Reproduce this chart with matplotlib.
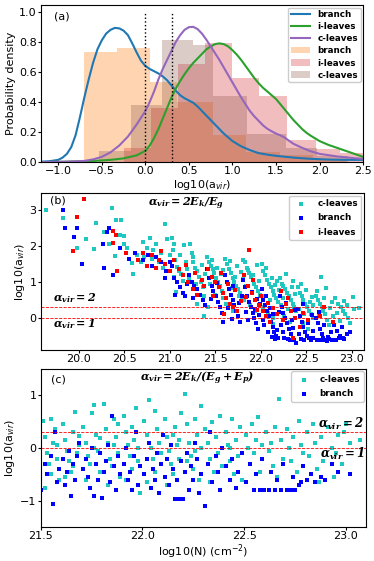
import matplotlib
matplotlib.use('Agg')
from matplotlib import pyplot as plt
import numpy as np

plt.rcParams['mathtext.fontset'] = 'custom'
plt.rcParams['mathtext.bf'] = 'DejaVu Serif:italic:bold'

# ---- panel (a): histograms (bin edges / densities) ----
br_edges = [-0.70, -0.32, 0.05, 0.36, 0.78, 1.15, 1.55, 1.93, 2.30]
br_hist = [0.735, 0.76, 0.53, 0.40, 0.178, 0.07, 0.045, 0.02]
il_edges = [-0.25, 0.064, 0.38, 0.69, 1.00, 1.31, 1.63, 1.96, 2.24, 2.55]
il_hist = [0.095, 0.36, 0.656, 0.79, 0.56, 0.44, 0.15, 0.09, 0.06]
cl_edges = [-0.53, -0.165, 0.19, 0.55, 0.78, 1.17, 1.62, 1.97, 2.33]
cl_hist = [0.075, 0.378, 0.81, 0.78, 0.44, 0.185, 0.096, 0.04]

# kde curves
br_kx = [-1.2, -1.1, -1.0, -0.95, -0.9, -0.85, -0.8, -0.75, -0.7, -0.65, -0.6, -0.55, -0.5, -0.45,
         -0.4, -0.35, -0.3, -0.25, -0.2, -0.15, -0.1, -0.05, 0.0, 0.05, 0.1, 0.15, 0.2, 0.25, 0.3,
         0.35, 0.4, 0.45, 0.5, 0.55, 0.6, 0.65, 0.7, 0.75, 0.8, 0.85, 0.9, 0.95, 1.0, 1.1, 1.2,
         1.3, 1.4, 1.5, 1.7, 1.9, 2.1, 2.3, 2.5]
br_ky = [0.003, 0.006, 0.015, 0.03, 0.055, 0.10, 0.18, 0.30, 0.43, 0.55, 0.66, 0.75, 0.81, 0.855,
         0.88, 0.893, 0.89, 0.875, 0.845, 0.79, 0.73, 0.675, 0.64, 0.62, 0.605, 0.59, 0.57, 0.545,
         0.51, 0.475, 0.445, 0.425, 0.41, 0.395, 0.37, 0.34, 0.31, 0.28, 0.25, 0.22, 0.19, 0.165,
         0.14, 0.105, 0.08, 0.06, 0.05, 0.042, 0.03, 0.022, 0.017, 0.015, 0.015]
il_kx = [-1.2, -0.9, -0.6, -0.4, -0.25, -0.1, 0.0, 0.05, 0.1, 0.15, 0.2, 0.25, 0.3, 0.35, 0.4,
         0.45, 0.5, 0.55, 0.6, 0.65, 0.7, 0.75, 0.8, 0.85, 0.9, 0.95, 1.0, 1.05, 1.1, 1.15, 1.2,
         1.25, 1.3, 1.35, 1.4, 1.45, 1.5, 1.55, 1.6, 1.65, 1.7, 1.75, 1.8, 1.85, 1.9, 2.0, 2.1,
         2.2, 2.3, 2.4, 2.5]
il_ky = [0.0, 0.003, 0.008, 0.015, 0.025, 0.045, 0.075, 0.11, 0.16, 0.22, 0.29, 0.36, 0.43, 0.49,
         0.54, 0.585, 0.625, 0.66, 0.69, 0.72, 0.75, 0.77, 0.785, 0.79, 0.785, 0.77, 0.745, 0.715,
         0.68, 0.64, 0.60, 0.56, 0.525, 0.495, 0.47, 0.445, 0.42, 0.385, 0.35, 0.315, 0.28, 0.25,
         0.22, 0.195, 0.175, 0.14, 0.115, 0.095, 0.075, 0.055, 0.035]
cl_kx = [-1.2, -0.9, -0.7, -0.6, -0.5, -0.4, -0.3, -0.2, -0.1, 0.0, 0.05, 0.1, 0.15, 0.2, 0.25,
         0.3, 0.35, 0.4, 0.45, 0.5, 0.55, 0.6, 0.65, 0.7, 0.75, 0.8, 0.85, 0.9, 0.95, 1.0, 1.05,
         1.1, 1.15, 1.2, 1.25, 1.3, 1.35, 1.4, 1.45, 1.5, 1.55, 1.6, 1.65, 1.7, 1.8, 1.9, 2.0,
         2.2, 2.4, 2.5]
cl_ky = [0.0, 0.003, 0.008, 0.018, 0.035, 0.065, 0.11, 0.17, 0.25, 0.34, 0.40, 0.47, 0.55, 0.62,
         0.68, 0.74, 0.80, 0.845, 0.88, 0.898, 0.90, 0.885, 0.855, 0.815, 0.77, 0.725, 0.68, 0.63,
         0.58, 0.53, 0.48, 0.43, 0.385, 0.34, 0.305, 0.275, 0.245, 0.222, 0.205, 0.19, 0.178,
         0.163, 0.142, 0.122, 0.095, 0.072, 0.055, 0.038, 0.026, 0.022]

# ---- panel (b): log10(N) vs log10(a_vir) ----
cl_b = np.array([
    (19.64, 3.00), (19.82, 2.78), (19.98, 1.95), (20.08, 2.20), (20.19, 2.65), (20.17, 1.92),
    (20.36, 3.06), (20.28, 2.40), (20.33, 2.05), (20.41, 2.73), (20.46, 2.72), (20.45, 2.30),
    (20.50, 2.28), (20.50, 2.05), (20.40, 1.72), (20.53, 1.95), (20.60, 1.22), (20.64, 1.75),
    (20.70, 2.12), (20.78, 2.22), (20.80, 1.65), (20.85, 2.05), (20.90, 1.80), (20.95, 2.62),
    (20.97, 2.18), (21.02, 2.22), (21.05, 2.05), (20.75, 1.95), (20.88, 1.55), (20.68, 1.55),
    (20.92, 1.40), (21.00, 1.75), (20.82, 1.88), (20.58, 1.52), (20.72, 1.70),
    (21.03, 1.90), (21.06, 1.60), (21.08, 1.42), (21.10, 1.30), (21.12, 1.22), (21.14, 1.02),
    (21.07, 0.72), (21.16, 2.02), (21.18, 1.55), (21.11, 1.75), (21.19, 1.35), (21.05, 1.15),
    (21.22, 2.05), (21.24, 1.80), (21.26, 1.55), (21.28, 1.40), (21.30, 1.30), (21.32, 1.15),
    (21.34, 1.00), (21.36, 0.85), (21.38, 0.60), (21.30, 0.40), (21.25, 1.68), (21.35, 1.48),
    (21.39, 1.22), (21.21, 1.12), (21.29, 0.95),
    (21.41, 1.70), (21.43, 1.55), (21.45, 1.45), (21.47, 1.35), (21.49, 1.25), (21.51, 1.10),
    (21.53, 1.00), (21.55, 0.90), (21.57, 0.75), (21.59, 0.55), (21.42, 0.30), (21.38, 0.05),
    (21.46, 1.62), (21.52, 1.40), (21.56, 1.22), (21.44, 0.95), (21.58, 1.32), (21.50, 0.65),
    (21.61, 1.65), (21.63, 1.50), (21.65, 1.35), (21.67, 1.25), (21.69, 1.10), (21.71, 1.00),
    (21.73, 0.90), (21.75, 0.80), (21.77, 0.70), (21.79, 0.55), (21.62, 0.40), (21.70, 0.20),
    (21.66, 1.58), (21.74, 1.45), (21.78, 1.28), (21.64, 0.95), (21.72, 1.15), (21.76, 0.62),
    (21.68, 0.82),
    (21.81, 1.60), (21.83, 1.55), (21.85, 1.40), (21.87, 1.25), (21.89, 1.15), (21.91, 1.05),
    (21.93, 0.95), (21.95, 0.85), (21.97, 0.75), (21.99, 0.65), (21.82, 0.50), (21.88, 0.35),
    (21.94, 0.20), (21.86, 1.32), (21.92, 1.20), (21.96, 1.48), (21.84, 0.88), (21.98, 1.02),
    (21.90, 0.72), (21.80, 1.08),
    (22.01, 1.50), (22.03, 1.30), (22.05, 1.20), (22.07, 1.05), (22.09, 0.95), (22.11, 0.85),
    (22.13, 0.75), (22.15, 0.65), (22.17, 0.55), (22.19, 0.45), (22.02, 0.30), (22.08, 0.15),
    (22.14, 0.00), (22.06, 1.38), (22.12, 1.12), (22.16, 0.92), (22.18, 1.02), (22.04, 0.62),
    (22.10, 0.50), (22.20, 0.78), (22.13, -0.18),
    (22.21, 1.10), (22.23, 0.95), (22.25, 0.90), (22.27, 0.80), (22.29, 0.70), (22.31, 0.60),
    (22.33, 0.50), (22.35, 0.40), (22.37, 0.30), (22.39, 0.20), (22.26, 0.05), (22.32, -0.10),
    (22.28, 1.22), (22.34, 0.85), (22.38, 0.68), (22.24, 0.55), (22.36, 1.02), (22.22, 0.35),
    (22.30, 0.25),
    (22.41, 0.85), (22.43, 0.70), (22.45, 0.60), (22.47, 0.50), (22.49, 0.40), (22.51, 0.30),
    (22.53, 0.20), (22.55, 0.10), (22.57, 0.00), (22.46, -0.15), (22.52, -0.30), (22.44, 0.95),
    (22.50, 0.78), (22.56, 0.58), (22.58, 0.35), (22.42, 0.25), (22.54, 0.45), (22.48, 0.12),
    (22.66, 1.15), (22.61, 0.60), (22.63, 0.50), (22.65, 0.40), (22.67, 0.30), (22.69, 0.20),
    (22.71, 0.10), (22.73, -0.05), (22.75, -0.20), (22.62, 0.75), (22.70, 0.55), (22.78, 0.45),
    (22.76, 0.28), (22.64, 0.12), (22.79, 0.05), (22.72, 0.82),
    (22.82, 0.55), (22.85, 0.40), (22.88, 0.30), (22.90, 0.20), (22.93, 0.10), (22.96, 0.00),
    (22.98, -0.15), (23.03, 0.25), (23.01, 0.58), (23.08, 0.28), (22.84, 0.15), (22.92, 0.48),
    (22.87, -0.08), (22.95, 0.35),
])
br_b = np.array([
    (19.83, 3.00), (19.85, 2.50), (19.95, 2.25), (19.98, 2.50), (20.03, 1.50), (20.27, 2.05),
    (20.31, 2.40), (20.33, 2.50), (20.28, 1.38), (20.38, 1.20), (20.45, 1.95), (20.55, 1.65),
    (20.62, 1.80), (20.70, 1.62), (20.80, 1.45), (20.85, 1.70), (20.90, 1.55), (20.95, 1.10),
    (21.00, 1.55), (20.96, 1.30), (20.76, 1.75),
    (21.02, 1.45), (21.05, 1.10), (21.08, 1.00), (21.11, 0.85), (21.14, 0.70), (21.17, 0.60),
    (21.19, 0.95), (21.06, 0.65),
    (21.21, 1.20), (21.24, 1.00), (21.27, 0.90), (21.30, 0.80), (21.33, 0.65), (21.36, 0.50),
    (21.39, 0.35), (21.26, 0.55), (21.35, 1.05),
    (21.41, 1.35), (21.43, 1.10), (21.46, 0.90), (21.48, 0.75), (21.51, 0.60), (21.53, 0.45),
    (21.55, 0.30), (21.57, 0.15), (21.59, -0.10), (21.45, 0.52), (21.52, 0.98), (21.58, 0.70),
    (21.61, 1.20), (21.63, 1.00), (21.65, 0.80), (21.67, 0.65), (21.69, 0.50), (21.71, 0.35),
    (21.73, 0.20), (21.75, 0.05), (21.77, -0.10), (21.79, 0.62), (21.64, 0.28), (21.70, 0.88),
    (21.76, 0.42), (21.68, -0.02),
    (21.81, 1.05), (21.83, 0.85), (21.85, 0.60), (21.87, 0.45), (21.89, 0.30), (21.91, 0.15),
    (21.93, 0.00), (21.95, -0.15), (21.97, -0.30), (21.99, 0.38), (21.84, 0.18), (21.90, 0.72),
    (21.96, 0.52), (21.86, -0.05), (21.94, 0.25), (21.98, 0.08),
    (22.01, 0.80), (22.03, 0.50), (22.05, 0.35), (22.07, 0.20), (22.09, 0.05), (22.11, -0.10),
    (22.13, -0.25), (22.15, -0.40), (22.17, -0.50), (22.19, -0.55), (22.02, -0.05), (22.06, 0.62),
    (22.10, 0.28), (22.14, 0.12), (22.18, -0.32), (22.04, -0.20), (22.12, -0.52), (22.08, -0.38),
    (22.16, -0.58), (22.20, 0.18),
    (22.21, 0.60), (22.23, 0.30), (22.25, 0.15), (22.27, 0.00), (22.29, -0.15), (22.31, -0.30),
    (22.33, -0.45), (22.35, -0.55), (22.37, -0.60), (22.39, -0.70), (22.22, -0.20), (22.26, -0.55),
    (22.30, -0.58), (22.34, -0.05), (22.38, 0.22), (22.24, -0.38), (22.32, -0.62), (22.28, 0.42),
    (22.36, -0.28),
    (22.41, 0.25), (22.43, 0.05), (22.45, -0.10), (22.47, -0.25), (22.49, -0.40), (22.51, -0.50),
    (22.53, -0.55), (22.55, -0.60), (22.57, -0.35), (22.44, -0.58), (22.48, -0.62), (22.52, -0.15),
    (22.56, 0.08), (22.58, -0.55), (22.42, -0.45), (22.46, 0.40),
    (22.61, 0.00), (22.63, -0.15), (22.65, -0.30), (22.67, -0.45), (22.69, -0.55), (22.71, -0.60),
    (22.73, -0.65), (22.75, -0.58), (22.77, -0.40), (22.62, -0.60), (22.66, -0.62), (22.70, -0.20),
    (22.74, -0.52), (22.78, -0.62), (22.64, 0.18),
    (22.81, -0.20), (22.84, -0.35), (22.87, -0.50), (22.90, -0.55), (22.95, -0.45), (22.83, -0.60),
    (22.86, -0.55), (22.92, -0.58), (22.98, -0.40), (22.89, -0.25),
])
il_b = np.array([
    (20.06, 3.30), (19.98, 2.79), (19.94, 1.86), (20.37, 2.42), (20.41, 2.30), (20.42, 1.31),
    (20.52, 1.81), (20.38, 2.07),
    (20.65, 1.60), (20.75, 1.45), (20.80, 1.75), (20.85, 1.40), (20.90, 1.85), (20.95, 1.50),
    (21.00, 1.30), (20.70, 1.80), (20.88, 1.62),
    (21.05, 1.60), (21.10, 1.35), (21.15, 1.20), (21.20, 1.00), (21.25, 0.80), (21.30, 0.65),
    (21.35, 1.05), (21.38, 0.90), (21.18, 1.48), (21.28, 1.25),
    (21.42, 1.35), (21.46, 1.15), (21.50, 1.00), (21.54, 0.85), (21.58, 0.70), (21.62, 0.55),
    (21.66, 0.40), (21.70, 0.30), (21.74, 0.20), (21.48, 0.62), (21.56, 1.25), (21.64, 0.95),
    (21.72, 0.78), (21.78, 0.48), (21.60, 0.12),
    (21.87, 1.90), (21.82, 1.20), (21.86, 0.90), (21.90, 0.70), (21.94, 0.50), (21.98, 0.35),
    (22.02, 0.20), (22.06, 0.05), (22.10, -0.10), (21.84, 0.58), (21.92, 1.05), (22.00, 0.62),
    (22.08, 0.42), (22.14, 0.28), (22.18, 0.10), (21.96, 0.22),
    (22.22, 0.75), (22.28, 0.40), (22.33, 0.20), (22.38, 0.00), (22.43, -0.25), (22.36, -0.56),
    (22.25, -0.05), (22.30, 0.55), (22.47, 0.15), (22.52, -0.05),
    (22.70, 0.30), (22.80, -0.10), (22.65, 0.05),
])

# ---- panel (c): with surface pressure term ----
cl_c = np.array([
    (21.51, 0.50), (21.52, 0.20), (21.53, -0.10), (21.54, -0.30), (21.55, -0.50), (21.56, 0.10),
    (21.57, 0.35), (21.58, -0.20), (21.59, -0.60), (21.52, -0.75), (21.55, 0.55), (21.58, 0.05),
    (21.61, 0.45), (21.62, 0.15), (21.63, -0.05), (21.64, -0.25), (21.65, -0.45), (21.66, 0.30),
    (21.67, 0.68), (21.68, -0.10), (21.69, 0.05), (21.62, -0.55), (21.66, -0.35), (21.69, 0.22),
    (21.71, 0.40), (21.72, 0.10), (21.73, -0.15), (21.74, -0.30), (21.75, 0.65), (21.76, 0.81),
    (21.77, 0.25), (21.78, -0.05), (21.79, -0.45), (21.72, -0.60), (21.76, 0.00), (21.79, 0.18),
    (21.81, 0.83), (21.82, 0.35), (21.83, 0.10), (21.84, -0.20), (21.85, -0.35), (21.86, 0.55),
    (21.87, 0.20), (21.88, -0.10), (21.89, -0.55), (21.83, -0.70), (21.86, 0.05), (21.88, 0.45),
    (21.91, 0.60), (21.92, 0.30), (21.93, 0.05), (21.94, -0.15), (21.95, -0.40), (21.96, 0.15),
    (21.97, 0.75), (21.98, -0.25), (21.99, -0.85), (21.92, -0.60), (21.95, 0.40), (21.98, 0.00),
    (22.01, 0.50), (22.03, 0.91), (22.02, 0.25), (22.04, 0.00), (22.05, -0.20), (22.06, -0.45),
    (22.07, 0.35), (22.08, 0.10), (22.09, -0.10), (22.02, -0.65), (22.06, 0.70), (22.09, -0.30),
    (22.11, 0.55), (22.12, 0.20), (22.13, -0.05), (22.14, -0.30), (22.15, -0.50), (22.16, 0.40),
    (22.17, 0.05), (22.18, -0.20), (22.19, 0.65), (22.12, -0.70), (22.15, 0.25), (22.18, 0.15),
    (22.21, 1.01), (22.22, 0.45), (22.23, 0.10), (22.24, -0.15), (22.25, -0.40), (22.26, 0.55),
    (22.27, 0.25), (22.28, -0.60), (22.29, 0.78), (22.22, -0.25), (22.26, -0.05), (22.29, 0.00),
    (22.31, 0.35), (22.32, 0.10), (22.33, -0.20), (22.34, 0.48), (22.35, -0.45), (22.36, 0.20),
    (22.37, -0.10), (22.38, 0.60), (22.39, -0.35), (22.33, -0.65),
    (22.41, 0.30), (22.42, 0.05), (22.43, -0.25), (22.44, 0.55), (22.45, -0.50), (22.46, 0.15),
    (22.47, -0.15), (22.48, 0.40), (22.49, -0.60), (22.43, 0.00),
    (22.51, 0.25), (22.52, 0.00), (22.53, -0.30), (22.54, 0.45), (22.55, -0.10), (22.56, 0.15),
    (22.57, 0.58), (22.58, -0.45), (22.59, 0.05),
    (22.61, 0.30), (22.62, -0.05), (22.63, 0.10), (22.64, -0.35), (22.65, 0.40), (22.67, 0.93),
    (22.68, 0.15), (22.69, -0.20), (22.66, -0.55),
    (22.71, 0.35), (22.72, 0.00), (22.73, -0.25), (22.74, 0.20), (22.76, -0.45), (22.77, 0.50),
    (22.78, 0.05), (22.79, -0.10),
    (22.81, 0.30), (22.82, -0.15), (22.84, 0.45), (22.85, 0.10), (22.86, -0.40), (22.87, -0.65),
    (22.88, 0.20), (22.89, -0.25),
    (22.91, 0.40), (22.93, 0.00), (22.95, -0.10), (22.96, 0.25), (22.98, -0.30), (23.00, 0.45),
    (23.02, 0.10), (23.07, 0.15), (22.94, -0.55), (22.99, 0.30),
])
br_c = np.array([
    (21.50, -0.80), (21.52, -0.30), (21.53, -0.50), (21.55, -0.15), (21.56, -1.06), (21.57, 0.30),
    (21.58, -0.65), (21.59, -0.40),
    (21.61, -0.20), (21.62, -0.70), (21.63, -0.45), (21.64, -0.05), (21.65, -0.90), (21.66, -0.30),
    (21.67, -0.60), (21.68, -0.15), (21.69, 0.10),
    (21.71, -0.40), (21.72, -0.20), (21.73, -0.55), (21.74, -0.75), (21.75, 0.00), (21.76, -0.90),
    (21.77, -0.30), (21.78, -0.60), (21.79, -0.10), (21.80, -0.95),
    (21.81, -0.45), (21.82, -0.25), (21.83, 0.05), (21.84, -0.65), (21.85, 0.60), (21.86, -0.35),
    (21.87, -0.80), (21.88, -0.15), (21.89, -0.50),
    (21.91, -0.30), (21.92, 0.00), (21.93, -0.60), (21.94, -0.45), (21.95, -0.80), (21.96, -0.15),
    (21.97, 0.30), (21.98, -0.70), (21.99, -0.35),
    (22.01, -0.50), (22.02, -0.20), (22.03, 0.10), (22.04, -0.75), (22.05, -0.40), (22.06, -0.60),
    (22.07, -0.10), (22.08, -0.85), (22.09, -0.30), (22.10, 0.25),
    (22.11, -0.55), (22.12, -0.20), (22.13, -0.70), (22.14, 0.05), (22.15, -0.40), (22.16, -0.97),
    (22.17, -0.60), (22.18, -0.97), (22.19, -0.25), (22.20, -0.97),
    (22.21, -0.45), (22.22, -0.10), (22.23, -0.80), (22.24, -0.35), (22.25, -0.60), (22.26, 0.10),
    (22.27, -0.20), (22.28, -0.85), (22.29, -0.50), (22.31, -1.09),
    (22.32, -0.30), (22.33, 0.30), (22.34, -0.65), (22.36, -0.15), (22.37, -0.45), (22.38, -0.80),
    (22.39, 0.00),
    (22.41, -0.35), (22.43, -0.60), (22.44, -0.20), (22.46, -0.75), (22.47, -0.45), (22.49, -0.10),
    (22.51, -0.65), (22.53, -0.30), (22.55, -0.79), (22.56, -0.50), (22.58, -0.79), (22.59, -0.20),
    (22.60, -0.79), (22.62, -0.79), (22.63, -0.45), (22.65, -0.79), (22.66, -0.60), (22.68, -0.79),
    (22.69, -0.30),
    (22.71, -0.79), (22.73, -0.79), (22.74, -0.55), (22.75, -0.79), (22.77, -0.70), (22.78, -0.65),
    (22.79, -0.35),
    (22.81, -0.60), (22.83, -0.50), (22.85, -0.65), (22.88, -0.55), (22.90, -0.60), (22.93, -0.30),
    (22.96, -0.45), (23.02, -0.50),
])

fs = 8
cyan = '#1ec8c0'
ms = 5
fig = plt.figure(figsize=(3.74, 5.61), dpi=100)

# ----- (a) -----
ax1 = fig.add_axes([0.109, 0.711, 0.862, 0.280])
ax1.stairs(br_hist, br_edges, fill=True, color='tab:orange', alpha=0.32, lw=0, label='branch')
ax1.stairs(il_hist, il_edges, fill=True, color='tab:red', alpha=0.3, lw=0, label='i-leaves')
ax1.stairs(cl_hist, cl_edges, fill=True, color='tab:brown', alpha=0.3, lw=0, label='c-leaves')
ax1.plot(br_kx, br_ky, color='tab:blue', lw=1.5, label='branch')
ax1.plot(il_kx, il_ky, color='tab:green', lw=1.5, label='i-leaves')
ax1.plot(cl_kx, cl_ky, color='tab:purple', lw=1.5, label='c-leaves')
ax1.vlines([0.0, np.log10(2)], 0, 1.0, colors='k', linestyles=':', lw=1)
ax1.set_xlim(-1.2, 2.5)
ax1.set_ylim(0, 1.045)
ax1.set_xticks([-1.0, -0.5, 0.0, 0.5, 1.0, 1.5, 2.0, 2.5])
ax1.set_yticks([0.0, 0.2, 0.4, 0.6, 0.8, 1.0])
ax1.set_xlabel('log10(a$_{vir}$)', fontsize=fs, labelpad=1)
ax1.set_ylabel('Probability density', fontsize=fs, labelpad=2)
ax1.tick_params(labelsize=fs, length=2, pad=1)
ax1.text(0.04, 0.93, '(a)', transform=ax1.transAxes, fontsize=fs, va='center')
h, l = ax1.get_legend_handles_labels()
ax1.legend(h[3:] + h[:3], l[3:] + l[:3], loc='upper right', prop={'weight': 'bold', 'size': 6.3},
           handlelength=2.2, borderpad=0.3, labelspacing=0.35, framealpha=1, borderaxespad=0.3)

# ----- (b) -----
ax2 = fig.add_axes([0.109, 0.376, 0.864, 0.280])
ax2.scatter(cl_b[:, 0], cl_b[:, 1], s=ms, marker='s', color=cyan, lw=0, label='c-leaves')
ax2.scatter(br_b[:, 0], br_b[:, 1], s=ms, marker='s', color='b', lw=0, label='branch')
ax2.scatter(il_b[:, 0], il_b[:, 1], s=ms, marker='s', color='r', lw=0, label='i-leaves')
ax2.axhline(np.log10(2), color='r', ls='--', lw=0.6)
ax2.axhline(0, color='r', ls='--', lw=0.6)
ax2.set_xlim(19.58, 23.135)
ax2.set_ylim(-0.89, 3.47)
ax2.set_xticks([20.0, 20.5, 21.0, 21.5, 22.0, 22.5, 23.0])
ax2.set_yticks([0, 1, 2, 3])
ax2.set_ylabel('log10(a$_{vir}$)', fontsize=fs, labelpad=2)
ax2.tick_params(labelsize=fs, length=2, pad=1)
ax2.text(0.03, 0.95, '(b)', transform=ax2.transAxes, fontsize=fs, va='center')
ax2.text(0.45, 0.93, r'$\mathbf{\alpha_{vir}=2E_k/E_g}$', transform=ax2.transAxes,
         fontsize=8, ha='center', va='center')
ax2.text(19.72, 0.54, r'$\mathbf{\alpha_{vir}=2}$', fontsize=8, va='center')
ax2.text(19.72, -0.17, r'$\mathbf{\alpha_{vir}=1}$', fontsize=8, va='center')
ax2.legend(loc='upper right', prop={'weight': 'bold', 'size': 6.3}, markerscale=1.2,
           borderpad=0.4, labelspacing=0.6, framealpha=1, borderaxespad=0.3)

# ----- (c) -----
ax3 = fig.add_axes([0.109, 0.0606, 0.870, 0.282])
ax3.scatter(cl_c[:, 0], cl_c[:, 1], s=ms, marker='s', color=cyan, lw=0, label='c-leaves')
ax3.scatter(br_c[:, 0], br_c[:, 1], s=ms, marker='s', color='b', lw=0, label='branch')
ax3.axhline(np.log10(2), color='r', ls='--', lw=0.6)
ax3.axhline(0, color='r', ls='--', lw=0.6)
ax3.set_xlim(21.5, 23.1)
ax3.set_ylim(-1.49, 1.49)
ax3.set_xticks([21.5, 22.0, 22.5, 23.0])
ax3.set_yticks([-1, 0, 1])
ax3.set_xlabel('log10(N) (cm$^{-2}$)', fontsize=fs, labelpad=1)
ax3.set_ylabel('log10(a$_{vir}$)', fontsize=fs, labelpad=2)
ax3.tick_params(labelsize=fs, length=2, pad=1)
ax3.text(0.03, 0.93, '(c)', transform=ax3.transAxes, fontsize=fs, va='center')
ax3.text(0.48, 0.94, r'$\mathbf{\alpha_{vir}=2E_k/(E_g+E_p)}$', transform=ax3.transAxes,
         fontsize=8, ha='center', va='center')
ax3.text(23.09, 0.46, r'$\mathbf{\alpha_{vir}=2}$', fontsize=8.5, ha='right', va='center')
ax3.text(23.09, -0.12, r'$\mathbf{\alpha_{vir}=1}$', fontsize=8.5, ha='right', va='center')
ax3.legend(loc='upper right', prop={'weight': 'bold', 'size': 6.3}, markerscale=1.2,
           borderpad=0.4, labelspacing=0.6, framealpha=1, borderaxespad=0.3)

fig.savefig('out.png', dpi=100)
